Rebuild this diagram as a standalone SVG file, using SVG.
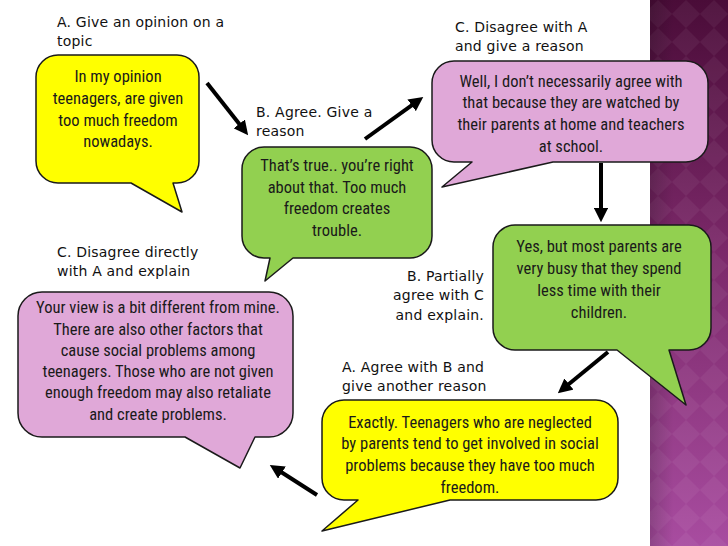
<svg xmlns="http://www.w3.org/2000/svg" width="728" height="546" viewBox="0 0 728 546">
<defs>
<linearGradient id="barGrad" x1="0" y1="0" x2="0" y2="1">
<stop offset="0" stop-color="#4a0c38"/>
<stop offset="0.45" stop-color="#7a2868"/>
<stop offset="1" stop-color="#a84ca0"/>
</linearGradient>
<linearGradient id="barShade" x1="0" y1="0" x2="1" y2="0">
<stop offset="0" stop-color="#000" stop-opacity="0.18"/>
<stop offset="0.3" stop-color="#000" stop-opacity="0"/>
</linearGradient>
<pattern id="diamonds" width="28" height="28" patternUnits="userSpaceOnUse">
<path d="M14,0 L28,14 L14,28 L0,14 Z" fill="#ffffff" fill-opacity="0.05"/>
</pattern>
<marker id="ah" viewBox="0 0 10 10" refX="3" refY="5" markerWidth="3.6" markerHeight="3.6" orient="auto" markerUnits="strokeWidth">
<path d="M0,0 L10,5 L0,10 Z" fill="#000"/>
</marker>
<style>
.bub { stroke: #1a1a1a; stroke-width: 1.5; stroke-linejoin: round; }
.yel { fill: #ffff00; }
.grn { fill: #92d050; }
.pnk { fill: #e0a8d8; }
.bt { font-family: "Liberation Sans Narrow", "Roboto Condensed", "Liberation Sans", sans-serif; font-size: 16.5px; fill: #1a1a1a; text-anchor: middle; }
.lbl { font-family: "DejaVu Sans", "Liberation Sans", sans-serif; font-size: 14px; letter-spacing: 0.2px; fill: #111; }
.arr { stroke: #000; stroke-width: 4; fill: none; marker-end: url(#ah); }
</style>
</defs>

<rect x="0" y="0" width="728" height="546" fill="#ffffff"/>
<g id="side-bar">
<rect x="650" y="0" width="78" height="546" fill="url(#barGrad)"/>
<rect x="650" y="0" width="78" height="546" fill="url(#diamonds)"/>
<rect x="650" y="0" width="78" height="546" fill="url(#barShade)"/>
</g>

<g id="labels">
<text class="lbl" x="57" y="27">A. Give an opinion on a</text>
<text class="lbl" x="57" y="46">topic</text>
<text class="lbl" x="256" y="117">B. Agree. Give a</text>
<text class="lbl" x="256" y="136">reason</text>
<text class="lbl" x="455" y="32">C. Disagree with A</text>
<text class="lbl" x="455" y="51">and give a reason</text>
<text class="lbl" x="57" y="257">C. Disagree directly</text>
<text class="lbl" x="57" y="276">with A and explain</text>
<text class="lbl" x="484" y="281" text-anchor="end">B. Partially</text>
<text class="lbl" x="484" y="300" text-anchor="end">agree with C</text>
<text class="lbl" x="484" y="320" text-anchor="end">and explain.</text>
<text class="lbl" x="342" y="372">A. Agree with B and</text>
<text class="lbl" x="342" y="391">give another reason</text>
</g>

<g id="node-a1">
<path class="bub yel" d="M58,55 H177 A22,22 0 0 1 199,77 V161 A22,22 0 0 1 177,183 H173 L182,212 L131,183 H58 A22,22 0 0 1 36,161 V77 A22,22 0 0 1 58,55 Z"/>
<text class="bt" x="118" y="82">In my opinion</text>
<text class="bt" x="118" y="104">teenagers, are given</text>
<text class="bt" x="118" y="126">too much freedom</text>
<text class="bt" x="118" y="147">nowadays.</text>
</g>

<g id="node-b1">
<path class="bub grn" d="M264,147 H410 A22,22 0 0 1 432,169 V236 A22,22 0 0 1 410,258 H293 L265,281 L270,258 H264 A22,22 0 0 1 242,236 V169 A22,22 0 0 1 264,147 Z"/>
<text class="bt" x="337" y="171">That’s true.. you’re right</text>
<text class="bt" x="337" y="193">about that. Too much</text>
<text class="bt" x="337" y="214">freedom creates</text>
<text class="bt" x="337" y="236">trouble.</text>
</g>

<g id="node-c1">
<path class="bub pnk" d="M454,61 H686 A22,22 0 0 1 708,83 V140 A22,22 0 0 1 686,162 H553 L442,187 L472,162 H454 A22,22 0 0 1 432,140 V83 A22,22 0 0 1 454,61 Z"/>
<text class="bt" x="571" y="87">Well, I don’t necessarily agree with</text>
<text class="bt" x="571" y="108">that because they are watched by</text>
<text class="bt" x="571" y="130">their parents at home and teachers</text>
<text class="bt" x="571" y="152">at school.</text>
</g>

<g id="node-b2">
<path class="bub grn" d="M515,225 H689 A22,22 0 0 1 711,247 V328 A22,22 0 0 1 689,350 H669 L686,405 L617,350 H515 A22,22 0 0 1 493,328 V247 A22,22 0 0 1 515,225 Z"/>
<text class="bt" x="599" y="252">Yes, but most parents are</text>
<text class="bt" x="599" y="274">very busy that they spend</text>
<text class="bt" x="599" y="296">less time with their</text>
<text class="bt" x="599" y="318">children.</text>
</g>

<g id="node-a2">
<path class="bub yel" d="M344,400 H596 A22,22 0 0 1 618,422 V478 A22,22 0 0 1 596,500 H450 L322,531 L358,500 H344 A22,22 0 0 1 322,478 V422 A22,22 0 0 1 344,400 Z"/>
<text class="bt" x="470" y="428">Exactly. Teenagers who are neglected</text>
<text class="bt" x="470" y="449">by parents tend to get involved in social</text>
<text class="bt" x="470" y="471">problems because they have too much</text>
<text class="bt" x="470" y="493">freedom.</text>
</g>

<g id="node-c2">
<path class="bub pnk" d="M42,292 H269 A24,24 0 0 1 293,316 V413 A24,24 0 0 1 269,437 H255 L240,468 L185,437 H42 A24,24 0 0 1 18,413 V316 A24,24 0 0 1 42,292 Z"/>
<text class="bt" x="158" y="313">Your view is a bit different from mine.</text>
<text class="bt" x="158" y="335">There are also other factors that</text>
<text class="bt" x="158" y="356">cause social problems among</text>
<text class="bt" x="158" y="377">teenagers. Those who are not given</text>
<text class="bt" x="158" y="398">enough freedom may also retaliate</text>
<text class="bt" x="158" y="420">and create problems.</text>
</g>

<g id="connectors">
<line class="arr" x1="207" y1="83" x2="241.9" y2="127.3"/>
<line class="arr" x1="365" y1="139" x2="415.1" y2="102.8"/>
<line class="arr" x1="601" y1="163" x2="601" y2="212.2"/>
<line class="arr" x1="608" y1="352" x2="565.6" y2="386.8"/>
<line class="arr" x1="317" y1="495" x2="278.3" y2="470.3"/>
</g>
</svg>
